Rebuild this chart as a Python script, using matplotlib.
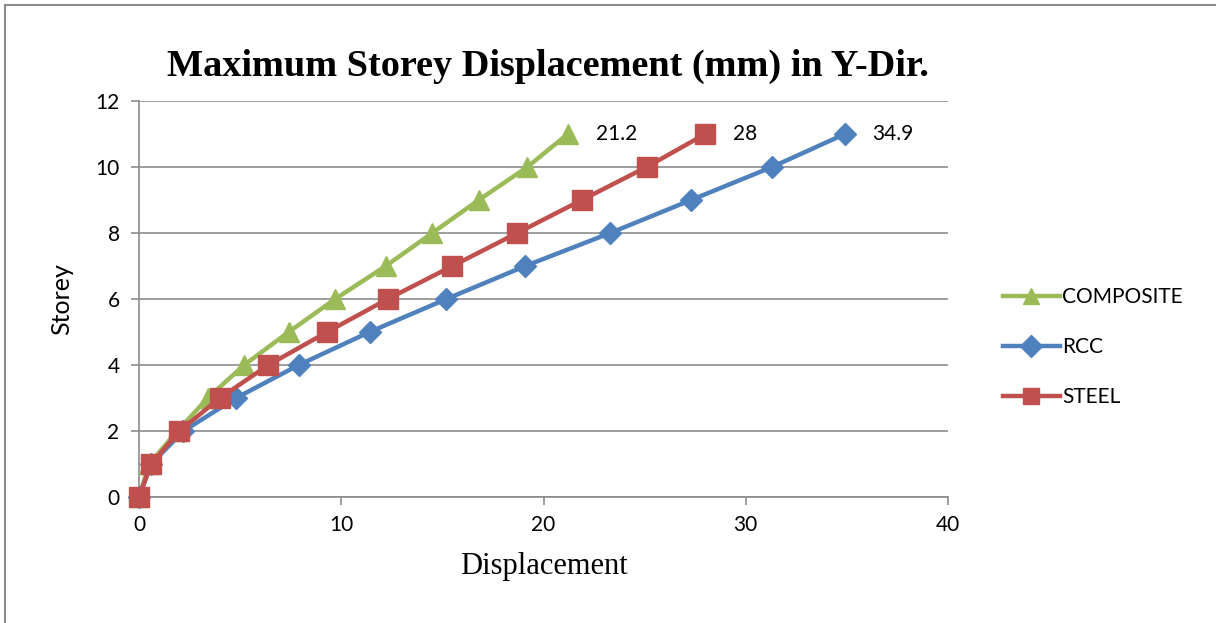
import matplotlib.pyplot as plt
from matplotlib.patches import Rectangle

storey = list(range(12))
composite = [0, 0.5, 1.9, 3.4, 5.2, 7.4, 9.7, 12.2, 14.5, 16.8, 19.2, 21.2]
rcc = [0, 0.6, 2.2, 4.8, 7.9, 11.4, 15.2, 19.1, 23.3, 27.3, 31.3, 34.9]
steel = [0, 0.6, 2.0, 4.0, 6.4, 9.3, 12.3, 15.5, 18.7, 21.9, 25.1, 28.0]

green = "#9bbb59"
blue = "#4f81bd"
red = "#c0504d"
sans = ["Lato", "DejaVu Sans"]
serif = ["Liberation Serif", "DejaVu Serif"]

fig = plt.figure(figsize=(12.16, 6.23), dpi=100)
ax = fig.add_axes([139 / 1216, 1 - 497 / 623, 809 / 1216, 396 / 623])

series = [
    ("COMPOSITE", composite, green, "^", 15),
    ("RCC", rcc, blue, "D", 11),
    ("STEEL", steel, red, "s", 14),
]
for name, xs, col, mk, ms in series:
    ax.plot(xs, storey, color=col, lw=3.2, marker=mk, ms=ms, label=name,
            clip_on=False, zorder=3)
    ax.annotate(f"{xs[-1]:g}", (xs[-1], storey[-1]), xytext=(20, 0),
                textcoords="offset points", va="center", ha="left",
                fontsize=15, family=sans)

ax.set_xlim(0, 40)
ax.set_ylim(0, 12)
ax.set_xticks(range(0, 41, 10))
ax.set_yticks(range(0, 13, 2))
ax.grid(axis="y", color="#8c8c8c", lw=1.2)
ax.set_axisbelow(True)
for s in ("top", "right"):
    ax.spines[s].set_visible(False)
for s in ("left", "bottom"):
    ax.spines[s].set_color("#8c8c8c")
    ax.spines[s].set_linewidth(1.2)
ax.tick_params(colors="#8c8c8c", length=6, width=1.2, labelcolor="black",
               labelsize=15)
for lab in ax.get_xticklabels() + ax.get_yticklabels():
    lab.set_family(sans)
ax.tick_params(axis="x", pad=7)
ax.tick_params(axis="y", pad=8)

ax.set_xlabel("Displacement", family=serif, fontsize=22, labelpad=12)
ax.set_ylabel("Storey", family=sans, fontsize=18, labelpad=16)
fig.text(0.451, 0.893, "Maximum Storey Displacement (mm) in Y-Dir.",
         ha="center", va="center", family=serif, fontsize=27.5,
         fontweight="bold")

handles, labels = ax.get_legend_handles_labels()
leg = fig.legend(handles, labels, loc="center left",
                 bbox_to_anchor=(984 / 1216, 1 - 347 / 623), frameon=False,
                 prop={"family": sans, "size": 15}, handlelength=2.75,
                 handletextpad=0.1, labelspacing=1.45)
for h in leg.legend_handles:
    h.set_markersize(11)

fig.patches.append(Rectangle((5 / 1216, -0.1), 1.2, 1.1 - 5 / 623,
                             transform=fig.transFigure, fill=False,
                             edgecolor="#8c8c8c", lw=1.5))

fig.savefig("out.png", dpi=100)
